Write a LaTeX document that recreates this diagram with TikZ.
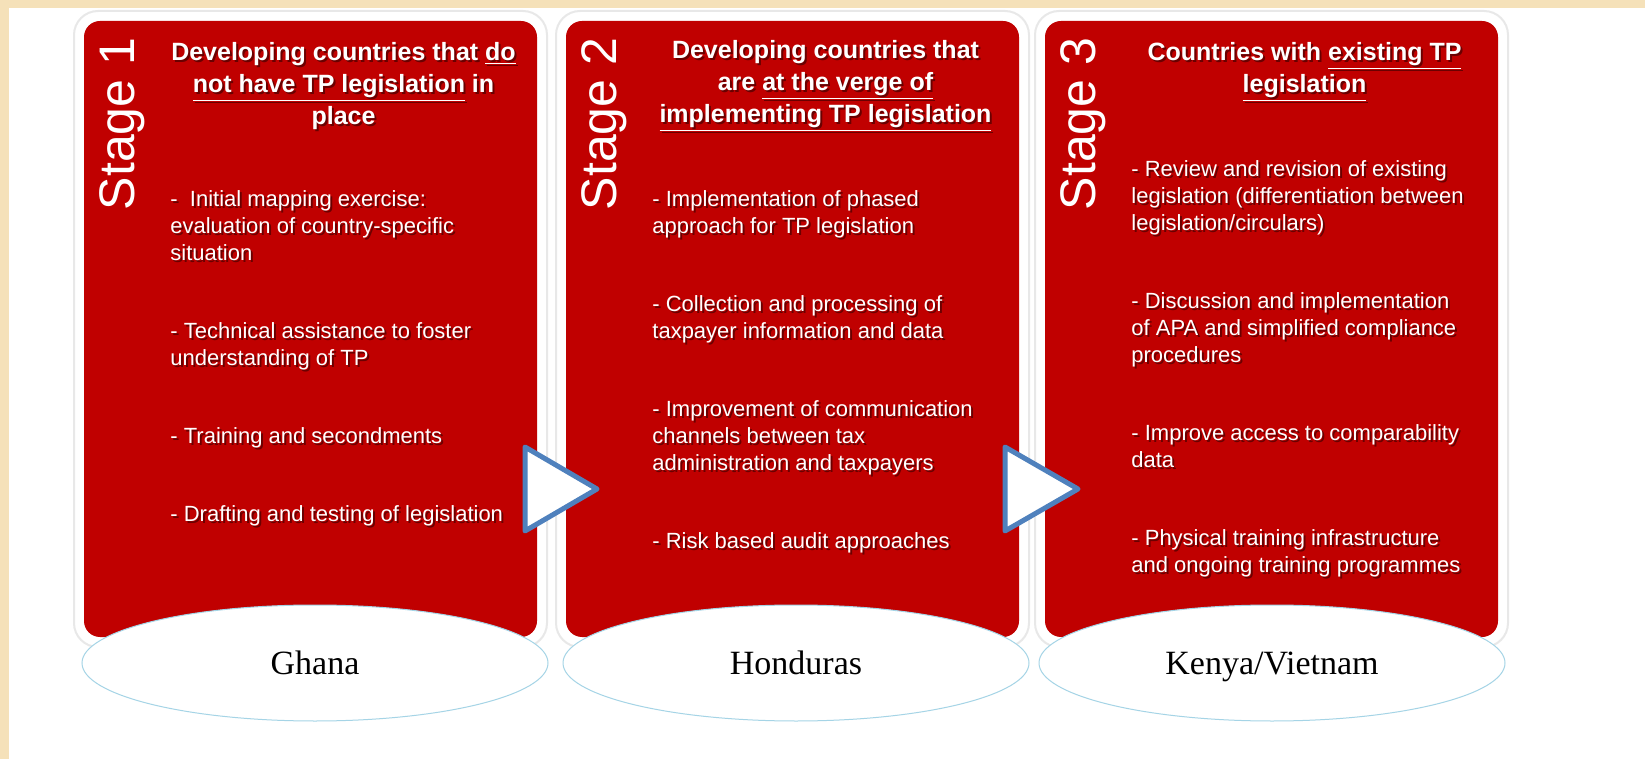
\documentclass[tikz,border=0pt]{standalone}
\usepackage{fontspec}
\setmainfont{Liberation Sans}
\newfontfamily\countryfont{Liberation Serif}
\usetikzlibrary{shapes,positioning}
\definecolor{cardred}{RGB}{192,0,0}
\definecolor{sand}{RGB}{245,225,185}
\definecolor{arrowblue}{RGB}{79,129,189}
\definecolor{ovalblue}{RGB}{165,212,230}
\colorlet{shade}{cardred!55!black}

\begin{document}
\begin{tikzpicture}[x=0.5pt,y=-0.5pt]
  \tikzstyle{frame}=[fill=white,draw=black!9,line width=1pt,rounded corners=12pt]
  \tikzstyle{card}=[fill=cardred,rounded corners=8pt]
  \tikzstyle{stage}=[rotate=90,inner sep=0pt,text=white,font=\fontsize{25pt}{25pt}\selectfont]
  \tikzstyle{head}=[anchor=north,align=center,inner sep=0pt,font=\fontsize{12.5pt}{16pt}\selectfont\bfseries]
  \tikzstyle{items}=[anchor=north west,align=left,inner sep=0pt,font=\fontsize{11pt}{13.5pt}\selectfont]
  \tikzstyle{playarrow}=[draw=arrowblue,fill=white,line width=2.5pt,line join=round]
  \tikzstyle{country}=[ellipse,draw=ovalblue,fill=white,line width=0.5pt,minimum width=233pt,minimum height=58pt,text height=11.5pt,text depth=0pt,font=\countryfont\fontsize{17pt}{17pt}\selectfont]
  \useasboundingbox (0,0) rectangle (1645,759);
  \fill[sand] (0,0) rectangle (1645,759);
  \fill[white] (9,8) rectangle (1645,759);
  \foreach \x/\n in {84/1,566/2,1045/3}{
    \filldraw[frame] (\x-10,11) rectangle (\x+463,647);
    \fill[card] (\x,21) rectangle (\x+453,637);
    \node[stage] (stage\n) at (\x+38,124) {Stage \n};
  }
  \foreach \d/\c in {2/shade,0/white}{
  \begin{scope}[shift={(\d,\d)},text=\c]
  \node[head] (head1) at (343.5,42) {Developing countries that \underline{do}\\
    \underline{not have TP legislation} in\\ place};
  \node[head] (head2) at (825.5,40) {Developing countries that\\
    are \underline{at the verge of}\\ \underline{implementing TP legislation}};
  \node[head] (head3) at (1304.5,42) {Countries with \underline{existing TP}\\
    \underline{legislation}};
  \node[items] (items1) at (170,190) {-\ \ Initial mapping exercise:\\
    evaluation of country-specific\\ situation\\[25.5pt]
    - Technical assistance to foster\\ understanding of TP\\[25.5pt]
    - Training and secondments\\[25.5pt]
    - Drafting and testing of legislation};
  \node[items] (items2) at (652,190) {- Implementation of phased\\
    approach for TP legislation\\[25.5pt]
    - Collection and processing of\\ taxpayer information and data\\[25.5pt]
    - Improvement of communication\\ channels between tax\\
    administration and taxpayers\\[25.5pt]
    - Risk based audit approaches};
  \node[items] (items3) at (1131,160) {- Review and revision of existing\\
    legislation (differentiation between\\ legislation/circulars)\\[25.5pt]
    - Discussion and implementation\\ of APA and simplified compliance\\
    procedures\\[25.5pt]
    - Improve access to comparability\\ data\\[25.5pt]
    - Physical training infrastructure\\ and ongoing training programmes};
  \end{scope}
  }
  \draw[playarrow] (525,447) -- (525,531) -- (597,489) -- cycle;
  \draw[playarrow] (1005,447) -- (1005,531) -- (1078,489) -- cycle;
  \node[country] (ghana) at (315,663) {Ghana};
  \node[country,right=7pt of ghana] (honduras) {Honduras};
  \node[country,right=4.5pt of honduras] (kenya) {Kenya/Vietnam};
\end{tikzpicture}
\end{document}
